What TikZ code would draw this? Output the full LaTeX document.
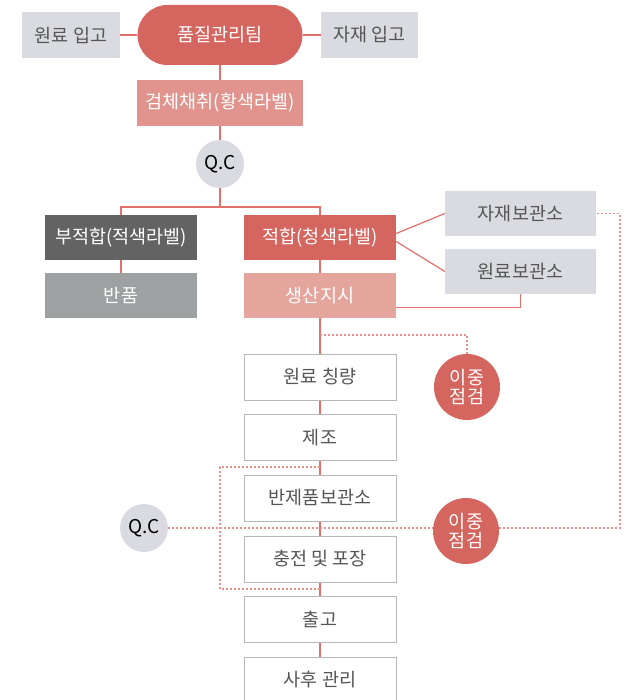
\documentclass[tikz,border=0pt]{standalone}
\usepackage{fontspec}
\setmainfont{Noto Sans CJK KR}
\usetikzlibrary{calc}
\definecolor{mainred}{HTML}{D4655F}
\definecolor{samplered}{HTML}{E0948D}
\definecolor{prodred}{HTML}{E4A59D}
\definecolor{lgray}{HTML}{DADBE0}
\definecolor{dgray}{HTML}{636363}
\definecolor{mgray}{HTML}{9EA1A1}
\definecolor{tgray}{HTML}{555555}
\definecolor{linecol}{HTML}{E3706A}
\definecolor{dotcol}{HTML}{E88F8A}
\definecolor{bordcol}{HTML}{B8B8B8}
\tikzset{
  base/.style={inner sep=0pt, font=\fontsize{18.5}{20}\selectfont},
  graybox/.style={base, rectangle, fill=lgray, text=tgray, minimum width=#1, minimum height=46pt},
  redbox/.style={base, rectangle, fill=mainred, text=white, minimum width=152pt, minimum height=45pt},
  whitebox/.style={base, rectangle, draw=bordcol, line width=1pt, fill=white, text=tgray, minimum width=152pt, minimum height=46pt},
  qcnode/.style={base, circle, fill=lgray, text=black, minimum size=48pt, font=\fontsize{19}{20}\selectfont},
  dcnode/.style={base, circle, fill=mainred, text=white, minimum size=66pt, align=center},
  conn/.style={draw=linecol, line width=1.2pt},
  dotconn/.style={draw=dotcol, line width=1.1pt, dash pattern=on 2pt off 2pt}
}
\begin{document}
\begin{tikzpicture}[x=1pt,y=-1pt]
\useasboundingbox (0,0) rectangle (634,700);
% top row
\node[graybox=98pt] (wonin) at (71,35) {원료 입고};
\node[base, rectangle, rounded corners=30pt, fill=mainred, text=white, minimum width=165pt, minimum height=60pt] (team) at (220,35) {품질관리팀};
\node[graybox=97pt] (jajein) at (369.5,35) {자재 입고};
\node[base, rectangle, fill=samplered, text=white, minimum width=166pt, minimum height=46pt] (sample) at (220,103) {검체채취(황색라벨)};
\node[qcnode] (qc1) at (220,164) {Q.C};
% branches
\node[base, rectangle, fill=dgray, text=white, minimum width=152pt, minimum height=45pt] (bad) at (121,237.5) {부적합(적색라벨)};
\node[base, rectangle, fill=mgray, text=white, minimum width=152pt, minimum height=45pt] (ret) at (121,295.5) {반품};
\node[redbox] (ok) at (320,237.5) {적합(청색라벨)};
\node[base, rectangle, fill=prodred, text=white, minimum width=152pt, minimum height=45pt] (prod) at (320,295.5) {생산지시};
\node[graybox=151pt, minimum height=45pt] (jstore) at (520.5,213.5) {자재보관소};
\node[graybox=151pt, minimum height=45pt] (wstore) at (520.5,271.5) {원료보관소};
% process
\node[whitebox] (weigh) at (320,377) {원료 칭량};
\node[whitebox] (make) at (320,437.5) {제조};
\node[whitebox] (semi) at (320,498) {반제품보관소};
\node[whitebox] (pack) at (320,559) {충전 및 포장};
\node[whitebox] (ship) at (320,619) {출고};
\node[whitebox] (after) at (320,680) {사후 관리};
% checks
\node[dcnode] (dc1) at (467,387) {이중\\[-1pt]점검};
\node[dcnode] (dc2) at (466,531) {이중\\[-1pt]점검};
\node[qcnode] (qc2) at (144,528) {Q.C};
% coordinates
\coordinate (split) at (220,207);
\coordinate (d1) at (320,335);
\coordinate (b1) at (320,467);
\coordinate (b2) at (220,467);
\coordinate (b3) at (220,589);
\coordinate (b4) at (320,589);
\coordinate (rt) at (620,528);
% solid connectors
\draw[conn] (wonin.east) -- (team.west);
\draw[conn] (team.east) -- (jajein.west);
\draw[conn] (team.south) -- (sample.north);
\draw[conn] (sample.south) -- (qc1.north);
\draw[conn] (qc1.south) -- (split);
\draw[conn] (bad.north) |- (split) -| (ok.north);
\draw[conn] (bad.south) -- (ret.north);
\draw[conn] (ok.south) -- (prod.north);
\draw[conn] ($(ok.east)+(0,-4)$) -- (jstore.west);
\draw[conn] ($(ok.east)+(0,4)$) -- (wstore.west);
\draw[conn] (wstore.south) |- ($(prod.south east)+(0,-11)$);
\draw[conn] (prod.south) -- (weigh.north);
\draw[conn] (weigh.south) -- (make.north);
\draw[conn] (make.south) -- (semi.north);
\draw[conn] (semi.south) -- (pack.north);
\draw[conn] (pack.south) -- (ship.north);
\draw[conn] (ship.south) -- (after.north);
% dotted connectors
\draw[dotconn] (d1) -| (dc1.north);
\draw[dotconn] (b1) -- (b2) -- (b3) -- (b4);
\draw[dotconn] (qc2.east) -- (qc2.east -| dc2.west);
\draw[dotconn] (qc2.east -| dc2.east) -- (rt) |- (jstore.east);
\end{tikzpicture}
\end{document}
